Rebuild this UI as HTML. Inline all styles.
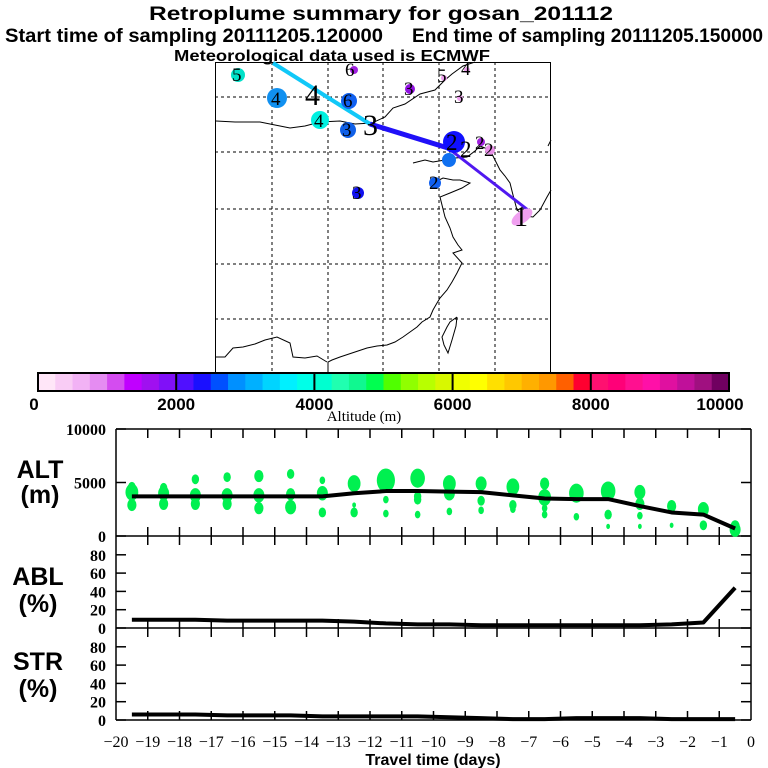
<!DOCTYPE html>
<html><head><meta charset="utf-8"><style>
body{margin:0;background:#fff}
svg{display:block}
.t{font-family:"Liberation Sans",sans-serif;font-weight:bold}
.s{font-family:"Liberation Serif",serif}
</style></head><body>
<svg id="root" width="768" height="768" viewBox="0 0 768 768" xmlns="http://www.w3.org/2000/svg">
<g>
<text class="t" x="381" y="20" font-size="19" text-anchor="middle" textLength="464" lengthAdjust="spacingAndGlyphs">Retroplume summary for gosan_201112</text>
<text class="t" x="5" y="42" font-size="19" textLength="378" lengthAdjust="spacingAndGlyphs">Start time of sampling 20111205.120000</text>
<text class="t" x="412" y="42" font-size="19" textLength="351" lengthAdjust="spacingAndGlyphs">End time of sampling 20111205.150000</text>
<text class="t" x="332" y="61" font-size="16" text-anchor="middle" textLength="316" lengthAdjust="spacingAndGlyphs">Meteorological data used is ECMWF</text>
</g>
<g id="map">
<rect x="215.5" y="62.5" width="335" height="310" fill="none" stroke="#000"/>
<g stroke="#000" stroke-dasharray="3,3" stroke-width="1">
<line x1="272" y1="62" x2="272" y2="372"/><line x1="328" y1="62" x2="328" y2="372"/><line x1="383" y1="62" x2="383" y2="372"/><line x1="439" y1="62" x2="439" y2="372"/><line x1="495" y1="62" x2="495" y2="372"/>
<line x1="215" y1="97" x2="551" y2="97"/><line x1="215" y1="152" x2="551" y2="152"/><line x1="215" y1="209" x2="551" y2="209"/><line x1="215" y1="264" x2="551" y2="264"/><line x1="215" y1="319" x2="551" y2="319"/>
</g>
<g fill="none" stroke="#000" stroke-width="1">
<polyline points="216,121 235,122 260,122 275,125 290,128 305,126 320,122 340,121 355,124 372,123 385,117 393,108 405,104 420,94 435,90 445,80 452,74 463,66 475,62"/>
<polyline points="413,163 425,160 433,162 445,160 455,158 467,157 475,151 480,146 490,150 495,160 500,170 505,176 510,183 513,195 517,210 525,216 533,217 540,210 547,197 551,190"/>
<polyline points="433,183 443,178 453,180 460,180 470,183 462,188 450,193 440,197 445,217 450,228 453,237 458,245 462,250 453,253 462,263 457,273 452,282 447,290 440,298 437,303 433,310 430,317 422,322 417,327 410,332 403,337 395,342 387,345 377,346 367,348 355,352 340,357 332,360 328,362 328,373"/>
<polyline points="216,357 225,357 233,348 243,347 255,344 265,340 277,337 290,343 293,357 305,358 317,356 327,362"/>
<polyline points="457,317 450,322 447,327 442,337 444,345 448,353 452,340 456,326 457,317"/>
<polyline points="548,146 551,140"/>
</g>
<g>
<line x1="273" y1="63" x2="370" y2="124" stroke="#10c8f8" stroke-width="4"/>
<line x1="370" y1="124" x2="448" y2="148" stroke="#2010f8" stroke-width="5"/>
<line x1="448" y1="148" x2="528" y2="210" stroke="#5018f0" stroke-width="3"/>
</g>
<g class="s" font-size="19">
<circle cx="238" cy="75" r="7" fill="#00e0c8"/><text x="232" y="81">5</text>
<circle cx="277" cy="98" r="10" fill="#1090f0"/><text x="271" y="105">4</text>
<text x="305" y="105" font-size="30">4</text>
<circle cx="349" cy="101" r="8" fill="#1060f0"/><text x="343" y="107">6</text>
<circle cx="320" cy="120" r="9" fill="#00f0e0"/><text x="314" y="127">4</text>
<circle cx="348" cy="130" r="8" fill="#1060e8"/><text x="342" y="136">3</text>
<text x="363" y="135" font-size="30">3</text>
<circle cx="354" cy="70" r="4" fill="#a020e0"/><text x="345" y="76">6</text>
<circle cx="410" cy="89" r="5" fill="#9010e0"/><text x="404" y="95">3</text>
<circle cx="444" cy="78" r="3" fill="#f0a0f0"/><text x="437" y="82">5</text>
<circle cx="467" cy="70" r="3" fill="#f0a0f0"/><text x="461" y="75">4</text>
<circle cx="460" cy="98" r="3" fill="#f0a0f0"/><text x="454" y="103">3</text>
<circle cx="454" cy="142" r="11" fill="#1010ff"/><text x="446" y="150" font-size="23">2</text>
<text x="460" y="157" font-size="23">2</text>
<circle cx="449" cy="160" r="7" fill="#1070f0"/>
<circle cx="481" cy="142" r="4" fill="#a020e0"/><text x="475" y="149">2</text>
<circle cx="490" cy="150" r="5" fill="#e890e8"/><text x="484" y="156">2</text>
<circle cx="435" cy="183" r="6" fill="#1060f0"/><text x="429" y="189">2</text>
<circle cx="358" cy="193" r="6" fill="#1010f0"/><text x="352" y="199">3</text>
<ellipse cx="522" cy="217" rx="12" ry="6" transform="rotate(-35 522 217)" fill="#f0a0f0"/><text x="514" y="226" font-size="28">1</text>
</g>
</g>
<g id="colorbar"></g>
<text class="s" x="364" y="421" font-size="15" text-anchor="middle">Altitude (m)</text>
<g id="panels"></g>
</svg>
<script>
// Colorbar data
const cbColors=["#ffe6f8","#f9ccf5","#f2b2f5","#e58cf2","#d44cf0","#c000ff","#a010f0","#8010f8",
"#5010ff","#1a10ff","#0050ff","#0090ff","#00b0ff","#00d4ff","#00f0ff","#00ffe8",
"#00ffd0","#20ffb0","#10f890","#00ff50","#50ff00","#90ff00","#b8ff00","#d8f800",
"#f0ff00","#ffff00","#ffe000","#ffc800","#ffb000","#ff9800","#ff6000","#ff0030",
"#ff1070","#ff0078","#ff1090","#ff10a8","#e010a0","#c0109a","#a01080","#700060"];
const cbTicks=[0,2000,4000,6000,8000,10000];

// Time series data
const days=[-19.5,-18.5,-17.5,-16.5,-15.5,-14.5,-13.5,-12.5,-11.5,-10.5,-9.5,-8.5,-7.5,-6.5,-5.5,-4.5,-3.5,-2.5,-1.5,-0.5];
const altMean=[3700,3700,3700,3700,3700,3700,3700,4000,4200,4200,4150,4100,3800,3500,3450,3450,2800,2200,2000,700];
const ablPct=[9,9,9,8,8,8,8,7,5,4,4,3,3,3,3,3,3,4,6,44];
const strPct=[6,6,6,5,5,5,4,4,4,4,3,2,1,1,2,2,2,1,1,1];
const dotDay=[-19.5,-19.5,-19.5,-18.5,-18.5,-18.5,-17.5,-17.5,-17.5,-16.5,-16.5,-16.5,-15.5,-15.5,-15.5,-14.5,-14.5,-14.5,-13.5,-13.5,-13.5,
-12.5,-12.5,-12.5,-11.5,-11.5,-11.5,-10.5,-10.5,-10.5,-10.5,-9.5,-9.5,-9.5,-8.5,-8.5,-8.5,-7.5,-7.5,-7.5,-6.5,-6.5,-6.5,-6.5,-5.5,-5.5,
-4.5,-4.5,-4.5,-3.5,-3.5,-3.5,-3.5,-2.5,-2.5,-1.5,-1.5,-0.5,-0.5];
const dotAlt=[4100,2900,4600,4000,3000,4500,5300,3800,3000,5500,3800,3000,5600,3800,2600,5800,3900,2700,5200,4000,2200,
4900,2900,2200,5200,3400,2100,5400,3700,3400,2000,4900,4000,2300,4900,3300,2400,4600,2900,2500,4900,3600,2600,2000,4000,1800,
4200,2000,900,4100,3000,1900,900,2800,1000,2500,1000,900,600];
const dotSize=[6,4,3,5,4,3,3,5,4,3,5,4,4,5,4,3,4,5,2,5,3,
6,1,3,9,2,2,7,3,3,2,6,5,2,5,3,2,6,3,2,4,6,2,2,7,2,
7,3,1,5,4,2,1,4,1,5,3,4,5];

const NS="http://www.w3.org/2000/svg";
function mk(tag,attrs,parent){const e=document.createElementNS(NS,tag);for(const k in attrs)e.setAttribute(k,attrs[k]);parent.appendChild(e);return e;}

// colorbar
const cb=document.getElementById('colorbar');
const cbL=38,cbR=729,cbT=373,cbB=391;
const cbX=v=>cbL+(cbR-cbL)*v/10000;
cbColors.forEach((c,i)=>{
 const r=mk('rect',{x:cbX(i*250),y:cbT,width:cbX((i+1)*250)-cbX(i*250)+0.5,height:cbB-cbT,fill:c},cb);
 
 
});
const cbFrame=mk('rect',{x:cbL,y:cbT,width:cbR-cbL,height:cbB-cbT,fill:'none',stroke:'#000','stroke-width':2},cb);


cbTicks.forEach((v,i)=>{
 if(i>0&&i<cbTicks.length-1){const l=mk('line',{x1:cbX(v),y1:cbT,x2:cbX(v),y2:cbB,stroke:'#000','stroke-width':2},cb);
 
 }
 let x=cbX(v);if(i==0)x=34;if(i==cbTicks.length-1)x=720;
 const t=mk('text',{x:x,y:410,'font-size':17,'text-anchor':'middle','class':'t'},cb);t.textContent=v;
 
 
});

// panels
const P=document.getElementById('panels');
const L=116,R=751;
const X=d=>R+(R-L)/20*d;
const altY=v=>536-107*v/10000;
const ablY=v=>628-0.915*v;
const strY=v=>720-0.915*v;
[[L,429,R,429],[L,536,R,536],[L,628,R,628],[L,720,R,720],[L,429,L,720],[R,429,R,720]].forEach(a=>{
 const l=mk('line',{x1:a[0],y1:a[1],x2:a[2],y2:a[3],stroke:'#000','stroke-width':1.5},P);
 
 
});
for(let d=-19;d<=-1;d++){
 [[429,438],[527,545],[619,637],[711,720]].forEach(s=>{
  const l=mk('line',{x1:X(d),y1:s[0],x2:X(d),y2:s[1],stroke:'#000','stroke-width':1.5},P);
  
  
 });
}
for(let d=-20;d<=0;d++){
 const t=mk('text',{x:X(d),y:747,'font-size':16,'text-anchor':'middle','class':'s'},P);
 t.textContent=d<0?'\u2212'+(-d):'0';
 
 
}
const xt=mk('text',{x:433,y:765,'font-size':16,'text-anchor':'middle','class':'t'},P);xt.textContent='Travel time (days)';


const altTicks=[0,5000,10000],pctTicks=[0,20,40,60,80];
function yTick(y,label,name){
 [[L,L+10],[R-10,R]].forEach(s=>{const l=mk('line',{x1:s[0],y1:y,x2:s[1],y2:y,stroke:'#000','stroke-width':1.5},P);
 
 });
 const t=mk('text',{x:106,y:y+6,'font-size':16,'text-anchor':'end','class':'s','font-weight':'bold'},P);t.textContent=label;
 
 
}
altTicks.forEach(v=>yTick(altY(v),v,'alt'));
pctTicks.forEach(v=>yTick(ablY(v),v,'abl'));
pctTicks.forEach(v=>yTick(strY(v),v,'str'));
function plabel(txt,x,y,name){const t=mk('text',{x:x,y:y,'font-size':25,'text-anchor':'middle','class':'t'},P);t.textContent=txt;
 
 }
plabel('ALT',40,478,'alt-label');plabel('(m)',40,503,'alt-unit');
plabel('ABL',38,585,'abl-label');plabel('(%)',38,612,'abl-unit');
plabel('STR',38,670,'str-label');plabel('(%)',38,697,'str-unit');
dotDay.forEach((d,i)=>{
 const s=dotSize[i];
 const e=mk('ellipse',{cx:X(d),cy:altY(dotAlt[i]),rx:1+s*0.9,ry:1.5+s*1.15,fill:'#00f050'},P);
 
 
});
function line(vals,yf,name){
 const pts=days.map((d,i)=>X(d)+','+yf(vals[i])).join(' ');
 const p=mk('polyline',{points:pts,fill:'none',stroke:'#000','stroke-width':4,'stroke-linejoin':'round'},P);
 
 
}
line(altMean,altY,'alt-mean-line');
line(ablPct,ablY,'abl-line');
line(strPct,strY,'str-line');
</script>
</body></html>
